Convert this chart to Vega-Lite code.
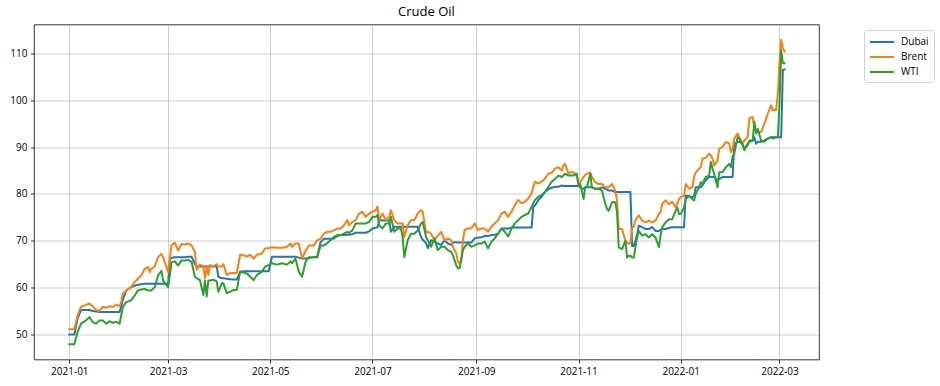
{
  "$schema": "https://vega.github.io/schema/vega-lite/v6.json",
  "width": 785,
  "height": 335,
  "autosize": "none",
  "padding": {"left": 34, "top": 24.5, "right": 121, "bottom": 26.5},
  "background": "white",
  "title": {"text": "Crude Oil", "fontSize": 13, "font": "Open Sans", "fontWeight": "normal", "color": "black", "offset": 6, "anchor": "middle"},
  "config": {
    "font": "Open Sans",
    "view": {"stroke": "black", "strokeWidth": 0.8},
    "axis": {"domain": false, "tickColor": "black", "tickSize": 3.5, "tickWidth": 0.8, "labelFontSize": 10, "labelColor": "black", "labelFont": "Open Sans", "labelPadding": 3.5, "gridColor": "#b0b0b0", "gridWidth": 0.8, "gridOpacity": 0.8, "title": null}
  },
  "data": {"values": [
    {"date": "2021-01-01", "Dubai": 50.0, "Brent": 51.1, "WTI": 47.9},
    {"date": "2021-01-04", "Dubai": 50.0, "Brent": 51.1, "WTI": 47.9},
    {"date": "2021-01-06", "Dubai": 53.5, "Brent": 54.1, "WTI": 50.6},
    {"date": "2021-01-08", "Dubai": 55.2, "Brent": 55.9, "WTI": 52.3},
    {"date": "2021-01-11", "Dubai": 55.2, "Brent": 56.3, "WTI": 53.0},
    {"date": "2021-01-13", "Dubai": 55.2, "Brent": 56.6, "WTI": 53.7},
    {"date": "2021-01-15", "Dubai": 55.0, "Brent": 56.0, "WTI": 52.6},
    {"date": "2021-01-17", "Dubai": 54.9, "Brent": 55.2, "WTI": 52.3},
    {"date": "2021-01-19", "Dubai": 54.8, "Brent": 55.0, "WTI": 53.0},
    {"date": "2021-01-21", "Dubai": 54.8, "Brent": 55.9, "WTI": 53.0},
    {"date": "2021-01-23", "Dubai": 54.8, "Brent": 55.7, "WTI": 52.3},
    {"date": "2021-01-25", "Dubai": 54.8, "Brent": 56.0, "WTI": 52.8},
    {"date": "2021-01-27", "Dubai": 54.8, "Brent": 55.9, "WTI": 52.5},
    {"date": "2021-01-29", "Dubai": 54.8, "Brent": 56.3, "WTI": 52.7},
    {"date": "2021-01-31", "Dubai": 54.8, "Brent": 56.1, "WTI": 52.3},
    {"date": "2021-02-01", "Dubai": 56.0, "Brent": 56.9, "WTI": 54.1},
    {"date": "2021-02-02", "Dubai": 57.5, "Brent": 58.7, "WTI": 55.9},
    {"date": "2021-02-04", "Dubai": 59.4, "Brent": 59.4, "WTI": 56.9},
    {"date": "2021-02-07", "Dubai": 60.1, "Brent": 60.1, "WTI": 57.3},
    {"date": "2021-02-09", "Dubai": 60.4, "Brent": 61.2, "WTI": 58.3},
    {"date": "2021-02-11", "Dubai": 60.6, "Brent": 61.9, "WTI": 59.4},
    {"date": "2021-02-13", "Dubai": 60.7, "Brent": 62.6, "WTI": 59.6},
    {"date": "2021-02-15", "Dubai": 60.8, "Brent": 64.0, "WTI": 59.7},
    {"date": "2021-02-17", "Dubai": 60.8, "Brent": 64.4, "WTI": 59.4},
    {"date": "2021-02-18", "Dubai": 60.8, "Brent": 63.3, "WTI": 59.4},
    {"date": "2021-02-19", "Dubai": 60.8, "Brent": 64.0, "WTI": 59.4},
    {"date": "2021-02-21", "Dubai": 60.8, "Brent": 64.5, "WTI": 60.1},
    {"date": "2021-02-23", "Dubai": 60.8, "Brent": 66.5, "WTI": 62.6},
    {"date": "2021-02-25", "Dubai": 60.8, "Brent": 67.2, "WTI": 63.6},
    {"date": "2021-02-26", "Dubai": 60.8, "Brent": 66.5, "WTI": 61.5},
    {"date": "2021-02-27", "Dubai": 60.8, "Brent": 65.4, "WTI": 61.0},
    {"date": "2021-03-01", "Dubai": 60.8, "Brent": 63.3, "WTI": 60.1},
    {"date": "2021-03-02", "Dubai": 66.1, "Brent": 66.1, "WTI": 62.6},
    {"date": "2021-03-03", "Dubai": 66.3, "Brent": 69.0, "WTI": 65.4},
    {"date": "2021-03-05", "Dubai": 66.5, "Brent": 69.6, "WTI": 65.6},
    {"date": "2021-03-07", "Dubai": 66.5, "Brent": 67.9, "WTI": 64.7},
    {"date": "2021-03-09", "Dubai": 66.5, "Brent": 69.3, "WTI": 65.8},
    {"date": "2021-03-11", "Dubai": 66.5, "Brent": 69.2, "WTI": 65.8},
    {"date": "2021-03-13", "Dubai": 66.6, "Brent": 69.4, "WTI": 65.9},
    {"date": "2021-03-15", "Dubai": 66.6, "Brent": 69.0, "WTI": 65.5},
    {"date": "2021-03-17", "Dubai": 65.0, "Brent": 67.6, "WTI": 62.3},
    {"date": "2021-03-18", "Dubai": 64.5, "Brent": 63.8, "WTI": 62.0},
    {"date": "2021-03-20", "Dubai": 64.5, "Brent": 64.9, "WTI": 61.6},
    {"date": "2021-03-22", "Dubai": 64.5, "Brent": 64.5, "WTI": 58.4},
    {"date": "2021-03-23", "Dubai": 64.5, "Brent": 62.0, "WTI": 61.5},
    {"date": "2021-03-24", "Dubai": 64.5, "Brent": 64.5, "WTI": 58.1},
    {"date": "2021-03-25", "Dubai": 64.5, "Brent": 62.7, "WTI": 61.5},
    {"date": "2021-03-26", "Dubai": 64.5, "Brent": 64.8, "WTI": 61.5},
    {"date": "2021-03-28", "Dubai": 64.5, "Brent": 64.5, "WTI": 61.7},
    {"date": "2021-03-30", "Dubai": 64.5, "Brent": 65.0, "WTI": 61.3},
    {"date": "2021-03-31", "Dubai": 62.3, "Brent": 64.5, "WTI": 59.1},
    {"date": "2021-04-02", "Dubai": 62.0, "Brent": 64.5, "WTI": 60.9},
    {"date": "2021-04-03", "Dubai": 62.0, "Brent": 65.0, "WTI": 60.9},
    {"date": "2021-04-05", "Dubai": 61.9, "Brent": 62.7, "WTI": 58.8},
    {"date": "2021-04-07", "Dubai": 61.8, "Brent": 63.1, "WTI": 59.1},
    {"date": "2021-04-09", "Dubai": 61.7, "Brent": 63.1, "WTI": 59.5},
    {"date": "2021-04-11", "Dubai": 61.7, "Brent": 63.1, "WTI": 59.5},
    {"date": "2021-04-13", "Dubai": 63.4, "Brent": 67.0, "WTI": 63.4},
    {"date": "2021-04-15", "Dubai": 63.5, "Brent": 66.9, "WTI": 63.2},
    {"date": "2021-04-17", "Dubai": 63.5, "Brent": 66.6, "WTI": 63.0},
    {"date": "2021-04-19", "Dubai": 63.5, "Brent": 67.0, "WTI": 62.3},
    {"date": "2021-04-21", "Dubai": 63.5, "Brent": 66.2, "WTI": 61.6},
    {"date": "2021-04-23", "Dubai": 63.5, "Brent": 67.0, "WTI": 62.7},
    {"date": "2021-04-26", "Dubai": 63.5, "Brent": 67.3, "WTI": 63.4},
    {"date": "2021-04-28", "Dubai": 63.5, "Brent": 68.4, "WTI": 64.5},
    {"date": "2021-04-30", "Dubai": 63.5, "Brent": 68.4, "WTI": 64.8},
    {"date": "2021-05-02", "Dubai": 66.6, "Brent": 68.6, "WTI": 65.2},
    {"date": "2021-05-05", "Dubai": 66.6, "Brent": 68.5, "WTI": 64.9},
    {"date": "2021-05-08", "Dubai": 66.6, "Brent": 68.5, "WTI": 65.2},
    {"date": "2021-05-11", "Dubai": 66.6, "Brent": 68.7, "WTI": 64.9},
    {"date": "2021-05-13", "Dubai": 66.6, "Brent": 69.4, "WTI": 65.6},
    {"date": "2021-05-14", "Dubai": 66.6, "Brent": 68.7, "WTI": 65.2},
    {"date": "2021-05-16", "Dubai": 66.6, "Brent": 69.4, "WTI": 66.2},
    {"date": "2021-05-18", "Dubai": 66.4, "Brent": 69.4, "WTI": 63.4},
    {"date": "2021-05-20", "Dubai": 66.2, "Brent": 66.2, "WTI": 62.3},
    {"date": "2021-05-22", "Dubai": 66.2, "Brent": 67.8, "WTI": 65.5},
    {"date": "2021-05-24", "Dubai": 66.3, "Brent": 69.0, "WTI": 66.5},
    {"date": "2021-05-27", "Dubai": 66.5, "Brent": 69.0, "WTI": 66.5},
    {"date": "2021-05-29", "Dubai": 66.6, "Brent": 70.1, "WTI": 66.4},
    {"date": "2021-05-31", "Dubai": 69.7, "Brent": 70.4, "WTI": 69.0},
    {"date": "2021-06-02", "Dubai": 70.4, "Brent": 71.5, "WTI": 69.0},
    {"date": "2021-06-04", "Dubai": 70.4, "Brent": 71.9, "WTI": 69.5},
    {"date": "2021-06-06", "Dubai": 70.4, "Brent": 71.9, "WTI": 70.1},
    {"date": "2021-06-08", "Dubai": 70.5, "Brent": 72.2, "WTI": 70.8},
    {"date": "2021-06-10", "Dubai": 71.0, "Brent": 72.6, "WTI": 71.2},
    {"date": "2021-06-12", "Dubai": 71.2, "Brent": 72.6, "WTI": 71.2},
    {"date": "2021-06-14", "Dubai": 71.2, "Brent": 73.3, "WTI": 71.5},
    {"date": "2021-06-16", "Dubai": 71.3, "Brent": 74.4, "WTI": 71.9},
    {"date": "2021-06-17", "Dubai": 71.3, "Brent": 73.3, "WTI": 71.7},
    {"date": "2021-06-19", "Dubai": 71.4, "Brent": 74.0, "WTI": 72.2},
    {"date": "2021-06-21", "Dubai": 71.7, "Brent": 74.4, "WTI": 73.7},
    {"date": "2021-06-23", "Dubai": 71.7, "Brent": 75.8, "WTI": 73.7},
    {"date": "2021-06-25", "Dubai": 71.7, "Brent": 76.2, "WTI": 73.7},
    {"date": "2021-06-27", "Dubai": 71.7, "Brent": 75.1, "WTI": 73.7},
    {"date": "2021-06-29", "Dubai": 72.0, "Brent": 75.8, "WTI": 74.0},
    {"date": "2021-07-01", "Dubai": 72.6, "Brent": 76.2, "WTI": 75.1},
    {"date": "2021-07-03", "Dubai": 72.8, "Brent": 76.5, "WTI": 75.1},
    {"date": "2021-07-04", "Dubai": 72.8, "Brent": 77.3, "WTI": 75.5},
    {"date": "2021-07-05", "Dubai": 74.4, "Brent": 74.4, "WTI": 73.3},
    {"date": "2021-07-07", "Dubai": 74.3, "Brent": 75.8, "WTI": 72.6},
    {"date": "2021-07-09", "Dubai": 74.3, "Brent": 74.4, "WTI": 73.7},
    {"date": "2021-07-11", "Dubai": 74.3, "Brent": 75.1, "WTI": 73.7},
    {"date": "2021-07-12", "Dubai": 71.9, "Brent": 76.5, "WTI": 75.1},
    {"date": "2021-07-14", "Dubai": 73.0, "Brent": 74.4, "WTI": 71.9},
    {"date": "2021-07-16", "Dubai": 73.0, "Brent": 73.7, "WTI": 72.6},
    {"date": "2021-07-18", "Dubai": 73.0, "Brent": 73.7, "WTI": 72.6},
    {"date": "2021-07-19", "Dubai": 73.0, "Brent": 73.7, "WTI": 70.8},
    {"date": "2021-07-20", "Dubai": 73.0, "Brent": 70.8, "WTI": 66.5},
    {"date": "2021-07-22", "Dubai": 73.0, "Brent": 73.3, "WTI": 70.1},
    {"date": "2021-07-24", "Dubai": 73.0, "Brent": 74.4, "WTI": 71.5},
    {"date": "2021-07-26", "Dubai": 73.0, "Brent": 74.4, "WTI": 71.5},
    {"date": "2021-07-28", "Dubai": 73.0, "Brent": 75.8, "WTI": 72.2},
    {"date": "2021-07-30", "Dubai": 70.8, "Brent": 76.5, "WTI": 73.7},
    {"date": "2021-07-31", "Dubai": 70.2, "Brent": 76.2, "WTI": 74.0},
    {"date": "2021-08-02", "Dubai": 69.5, "Brent": 71.7, "WTI": 70.8},
    {"date": "2021-08-03", "Dubai": 68.4, "Brent": 71.9, "WTI": 70.1},
    {"date": "2021-08-05", "Dubai": 70.1, "Brent": 71.5, "WTI": 68.7},
    {"date": "2021-08-07", "Dubai": 69.8, "Brent": 70.1, "WTI": 70.5},
    {"date": "2021-08-09", "Dubai": 69.4, "Brent": 71.1, "WTI": 68.0},
    {"date": "2021-08-11", "Dubai": 69.1, "Brent": 71.9, "WTI": 68.7},
    {"date": "2021-08-13", "Dubai": 70.1, "Brent": 70.1, "WTI": 68.7},
    {"date": "2021-08-15", "Dubai": 69.4, "Brent": 70.5, "WTI": 68.0},
    {"date": "2021-08-17", "Dubai": 69.1, "Brent": 70.1, "WTI": 67.6},
    {"date": "2021-08-18", "Dubai": 69.6, "Brent": 68.7, "WTI": 66.9},
    {"date": "2021-08-20", "Dubai": 69.7, "Brent": 67.3, "WTI": 64.8},
    {"date": "2021-08-21", "Dubai": 69.6, "Brent": 65.5, "WTI": 64.1},
    {"date": "2021-08-22", "Dubai": 69.6, "Brent": 65.2, "WTI": 64.1},
    {"date": "2021-08-23", "Dubai": 69.6, "Brent": 65.9, "WTI": 66.0},
    {"date": "2021-08-24", "Dubai": 69.6, "Brent": 70.1, "WTI": 68.0},
    {"date": "2021-08-25", "Dubai": 69.6, "Brent": 72.3, "WTI": 68.7},
    {"date": "2021-08-27", "Dubai": 69.6, "Brent": 72.6, "WTI": 69.4},
    {"date": "2021-08-29", "Dubai": 69.6, "Brent": 72.6, "WTI": 68.7},
    {"date": "2021-08-31", "Dubai": 70.5, "Brent": 73.7, "WTI": 69.0},
    {"date": "2021-09-02", "Dubai": 70.7, "Brent": 72.3, "WTI": 69.4},
    {"date": "2021-09-04", "Dubai": 70.7, "Brent": 72.6, "WTI": 69.4},
    {"date": "2021-09-06", "Dubai": 71.0, "Brent": 72.6, "WTI": 69.8},
    {"date": "2021-09-08", "Dubai": 71.0, "Brent": 71.9, "WTI": 68.4},
    {"date": "2021-09-10", "Dubai": 71.2, "Brent": 73.0, "WTI": 69.8},
    {"date": "2021-09-12", "Dubai": 71.3, "Brent": 73.7, "WTI": 70.5},
    {"date": "2021-09-14", "Dubai": 71.5, "Brent": 74.4, "WTI": 71.5},
    {"date": "2021-09-16", "Dubai": 72.6, "Brent": 75.8, "WTI": 72.6},
    {"date": "2021-09-18", "Dubai": 72.6, "Brent": 76.2, "WTI": 71.9},
    {"date": "2021-09-20", "Dubai": 72.6, "Brent": 75.1, "WTI": 70.9},
    {"date": "2021-09-22", "Dubai": 72.8, "Brent": 76.2, "WTI": 72.6},
    {"date": "2021-09-24", "Dubai": 72.8, "Brent": 77.6, "WTI": 73.7},
    {"date": "2021-09-26", "Dubai": 72.8, "Brent": 78.7, "WTI": 74.4},
    {"date": "2021-09-28", "Dubai": 72.8, "Brent": 78.0, "WTI": 75.1},
    {"date": "2021-09-30", "Dubai": 72.8, "Brent": 78.3, "WTI": 75.5},
    {"date": "2021-10-02", "Dubai": 72.8, "Brent": 79.0, "WTI": 75.8},
    {"date": "2021-10-04", "Dubai": 72.8, "Brent": 80.1, "WTI": 77.2},
    {"date": "2021-10-05", "Dubai": 77.2, "Brent": 81.5, "WTI": 78.0},
    {"date": "2021-10-06", "Dubai": 77.5, "Brent": 82.6, "WTI": 78.7},
    {"date": "2021-10-08", "Dubai": 78.7, "Brent": 82.2, "WTI": 79.4},
    {"date": "2021-10-10", "Dubai": 79.4, "Brent": 82.6, "WTI": 79.7},
    {"date": "2021-10-12", "Dubai": 80.4, "Brent": 83.3, "WTI": 80.4},
    {"date": "2021-10-14", "Dubai": 81.0, "Brent": 84.3, "WTI": 81.5},
    {"date": "2021-10-16", "Dubai": 81.3, "Brent": 84.5, "WTI": 82.6},
    {"date": "2021-10-18", "Dubai": 81.5, "Brent": 85.4, "WTI": 83.2},
    {"date": "2021-10-20", "Dubai": 81.5, "Brent": 85.7, "WTI": 83.9},
    {"date": "2021-10-22", "Dubai": 81.8, "Brent": 85.0, "WTI": 83.6},
    {"date": "2021-10-23", "Dubai": 81.7, "Brent": 86.1, "WTI": 83.9},
    {"date": "2021-10-24", "Dubai": 81.7, "Brent": 86.4, "WTI": 84.3},
    {"date": "2021-10-26", "Dubai": 81.7, "Brent": 84.3, "WTI": 83.9},
    {"date": "2021-10-27", "Dubai": 81.7, "Brent": 84.6, "WTI": 83.9},
    {"date": "2021-10-29", "Dubai": 81.7, "Brent": 84.6, "WTI": 83.9},
    {"date": "2021-10-31", "Dubai": 81.7, "Brent": 83.9, "WTI": 84.3},
    {"date": "2021-11-01", "Dubai": 81.7, "Brent": 82.1, "WTI": 81.8},
    {"date": "2021-11-02", "Dubai": 81.4, "Brent": 82.5, "WTI": 82.1},
    {"date": "2021-11-03", "Dubai": 81.1, "Brent": 83.0, "WTI": 80.7},
    {"date": "2021-11-04", "Dubai": 81.1, "Brent": 83.6, "WTI": 78.9},
    {"date": "2021-11-05", "Dubai": 81.4, "Brent": 84.0, "WTI": 81.4},
    {"date": "2021-11-06", "Dubai": 81.4, "Brent": 84.3, "WTI": 81.4},
    {"date": "2021-11-08", "Dubai": 81.4, "Brent": 84.6, "WTI": 84.3},
    {"date": "2021-11-09", "Dubai": 81.4, "Brent": 83.6, "WTI": 81.4},
    {"date": "2021-11-11", "Dubai": 81.1, "Brent": 82.5, "WTI": 81.1},
    {"date": "2021-11-13", "Dubai": 81.1, "Brent": 82.1, "WTI": 81.1},
    {"date": "2021-11-15", "Dubai": 81.4, "Brent": 82.1, "WTI": 80.7},
    {"date": "2021-11-17", "Dubai": 81.1, "Brent": 81.4, "WTI": 77.9},
    {"date": "2021-11-18", "Dubai": 80.9, "Brent": 81.4, "WTI": 76.8},
    {"date": "2021-11-19", "Dubai": 80.7, "Brent": 81.4, "WTI": 76.4},
    {"date": "2021-11-21", "Dubai": 80.7, "Brent": 82.1, "WTI": 78.2},
    {"date": "2021-11-23", "Dubai": 80.4, "Brent": 80.7, "WTI": 78.2},
    {"date": "2021-11-24", "Dubai": 80.4, "Brent": 78.6, "WTI": 76.1},
    {"date": "2021-11-25", "Dubai": 80.4, "Brent": 72.5, "WTI": 68.6},
    {"date": "2021-11-27", "Dubai": 80.4, "Brent": 72.5, "WTI": 68.2},
    {"date": "2021-11-29", "Dubai": 80.4, "Brent": 70.0, "WTI": 70.0},
    {"date": "2021-11-30", "Dubai": 80.4, "Brent": 69.6, "WTI": 66.4},
    {"date": "2021-12-01", "Dubai": 80.4, "Brent": 69.3, "WTI": 66.8},
    {"date": "2021-12-02", "Dubai": 80.4, "Brent": 69.6, "WTI": 66.8},
    {"date": "2021-12-03", "Dubai": 68.9, "Brent": 72.9, "WTI": 66.4},
    {"date": "2021-12-04", "Dubai": 68.9, "Brent": 73.0, "WTI": 66.4},
    {"date": "2021-12-05", "Dubai": 70.0, "Brent": 74.3, "WTI": 68.6},
    {"date": "2021-12-06", "Dubai": 71.4, "Brent": 75.0, "WTI": 70.7},
    {"date": "2021-12-07", "Dubai": 73.2, "Brent": 75.4, "WTI": 72.1},
    {"date": "2021-12-09", "Dubai": 72.9, "Brent": 74.3, "WTI": 71.1},
    {"date": "2021-12-11", "Dubai": 72.5, "Brent": 73.9, "WTI": 71.4},
    {"date": "2021-12-13", "Dubai": 72.5, "Brent": 74.3, "WTI": 70.7},
    {"date": "2021-12-15", "Dubai": 72.9, "Brent": 73.9, "WTI": 71.4},
    {"date": "2021-12-17", "Dubai": 72.1, "Brent": 74.3, "WTI": 70.7},
    {"date": "2021-12-19", "Dubai": 72.1, "Brent": 75.7, "WTI": 68.6},
    {"date": "2021-12-20", "Dubai": 72.3, "Brent": 76.1, "WTI": 71.1},
    {"date": "2021-12-21", "Dubai": 72.5, "Brent": 77.9, "WTI": 72.9},
    {"date": "2021-12-23", "Dubai": 72.5, "Brent": 78.6, "WTI": 73.9},
    {"date": "2021-12-25", "Dubai": 72.7, "Brent": 77.8, "WTI": 74.6},
    {"date": "2021-12-27", "Dubai": 72.9, "Brent": 78.3, "WTI": 74.6},
    {"date": "2021-12-29", "Dubai": 72.9, "Brent": 77.2, "WTI": 76.4},
    {"date": "2021-12-30", "Dubai": 72.9, "Brent": 77.9, "WTI": 77.1},
    {"date": "2021-12-31", "Dubai": 72.9, "Brent": 78.9, "WTI": 75.7},
    {"date": "2022-01-01", "Dubai": 72.9, "Brent": 79.3, "WTI": 75.7},
    {"date": "2022-01-03", "Dubai": 72.9, "Brent": 79.6, "WTI": 77.1},
    {"date": "2022-01-04", "Dubai": 79.6, "Brent": 82.1, "WTI": 78.9},
    {"date": "2022-01-06", "Dubai": 79.5, "Brent": 81.1, "WTI": 79.6},
    {"date": "2022-01-08", "Dubai": 79.3, "Brent": 81.4, "WTI": 78.9},
    {"date": "2022-01-09", "Dubai": 79.6, "Brent": 83.6, "WTI": 78.6},
    {"date": "2022-01-10", "Dubai": 81.4, "Brent": 84.6, "WTI": 80.0},
    {"date": "2022-01-12", "Dubai": 81.4, "Brent": 85.4, "WTI": 81.4},
    {"date": "2022-01-13", "Dubai": 81.4, "Brent": 85.7, "WTI": 82.5},
    {"date": "2022-01-14", "Dubai": 81.8, "Brent": 87.5, "WTI": 82.1},
    {"date": "2022-01-16", "Dubai": 82.9, "Brent": 87.7, "WTI": 83.6},
    {"date": "2022-01-18", "Dubai": 83.6, "Brent": 88.6, "WTI": 83.9},
    {"date": "2022-01-19", "Dubai": 83.6, "Brent": 88.2, "WTI": 86.8},
    {"date": "2022-01-20", "Dubai": 83.6, "Brent": 87.5, "WTI": 85.4},
    {"date": "2022-01-21", "Dubai": 83.6, "Brent": 86.1, "WTI": 84.3},
    {"date": "2022-01-23", "Dubai": 82.9, "Brent": 87.1, "WTI": 81.4},
    {"date": "2022-01-24", "Dubai": 83.2, "Brent": 89.6, "WTI": 84.6},
    {"date": "2022-01-26", "Dubai": 83.6, "Brent": 90.0, "WTI": 84.6},
    {"date": "2022-01-28", "Dubai": 83.6, "Brent": 91.1, "WTI": 85.7},
    {"date": "2022-01-30", "Dubai": 83.6, "Brent": 90.7, "WTI": 86.4},
    {"date": "2022-01-31", "Dubai": 83.6, "Brent": 88.9, "WTI": 85.7},
    {"date": "2022-02-01", "Dubai": 83.6, "Brent": 89.6, "WTI": 88.0},
    {"date": "2022-02-02", "Dubai": 90.7, "Brent": 91.8, "WTI": 88.6},
    {"date": "2022-02-04", "Dubai": 91.1, "Brent": 92.9, "WTI": 92.1},
    {"date": "2022-02-05", "Dubai": 91.1, "Brent": 92.1, "WTI": 91.8},
    {"date": "2022-02-07", "Dubai": 90.7, "Brent": 90.7, "WTI": 90.4},
    {"date": "2022-02-08", "Dubai": 89.6, "Brent": 91.4, "WTI": 89.3},
    {"date": "2022-02-10", "Dubai": 90.4, "Brent": 92.1, "WTI": 90.7},
    {"date": "2022-02-11", "Dubai": 91.4, "Brent": 96.1, "WTI": 91.1},
    {"date": "2022-02-13", "Dubai": 91.4, "Brent": 96.4, "WTI": 91.4},
    {"date": "2022-02-14", "Dubai": 92.1, "Brent": 93.9, "WTI": 95.4},
    {"date": "2022-02-15", "Dubai": 90.7, "Brent": 93.6, "WTI": 92.9},
    {"date": "2022-02-16", "Dubai": 91.1, "Brent": 93.2, "WTI": 93.9},
    {"date": "2022-02-18", "Dubai": 91.1, "Brent": 93.2, "WTI": 91.4},
    {"date": "2022-02-20", "Dubai": 91.4, "Brent": 95.0, "WTI": 91.1},
    {"date": "2022-02-22", "Dubai": 91.8, "Brent": 97.1, "WTI": 91.8},
    {"date": "2022-02-24", "Dubai": 92.1, "Brent": 98.9, "WTI": 92.1},
    {"date": "2022-02-25", "Dubai": 92.1, "Brent": 97.9, "WTI": 91.8},
    {"date": "2022-02-27", "Dubai": 92.1, "Brent": 97.9, "WTI": 92.1},
    {"date": "2022-02-28", "Dubai": 92.1, "Brent": 101.4, "WTI": 92.1},
    {"date": "2022-03-01", "Dubai": 92.1, "Brent": 107.9, "WTI": 99.3},
    {"date": "2022-03-02", "Dubai": 92.1, "Brent": 112.9, "WTI": 110.7},
    {"date": "2022-03-03", "Dubai": 106.4, "Brent": 111.1, "WTI": 107.9},
    {"date": "2022-03-04", "Dubai": 106.6, "Brent": 110.4, "WTI": 107.9}
  ]},
  "transform": [{"fold": ["Dubai", "Brent", "WTI"], "as": ["series", "price"]}],
  "mark": {"type": "line", "strokeWidth": 2, "strokeJoin": "round", "strokeCap": "square"},
  "encoding": {
    "x": {
      "field": "date", "type": "temporal",
      "scale": {"type": "utc", "domain": [{"year": 2020, "month": 12, "date": 10, "hours": 22, "utc": true}, {"year": 2022, "month": 3, "date": 24, "hours": 14, "utc": true}]},
      "axis": {
        "values": [
          {"year": 2021, "month": 1, "date": 1, "utc": true},
          {"year": 2021, "month": 3, "date": 1, "utc": true},
          {"year": 2021, "month": 5, "date": 1, "utc": true},
          {"year": 2021, "month": 7, "date": 1, "utc": true},
          {"year": 2021, "month": 9, "date": 1, "utc": true},
          {"year": 2021, "month": 11, "date": 1, "utc": true},
          {"year": 2022, "month": 1, "date": 1, "utc": true},
          {"year": 2022, "month": 3, "date": 1, "utc": true}
        ],
        "labelExpr": "utcFormat(datum.value, '%Y-%m')", "labelFlush": false, "labelOverlap": false
      }
    },
    "y": {
      "field": "price", "type": "quantitative",
      "scale": {"domain": [44.65, 116.15], "nice": false, "zero": false},
      "axis": {"values": [50, 60, 70, 80, 90, 100, 110]}
    },
    "color": {
      "field": "series", "type": "nominal",
      "scale": {"domain": ["Dubai", "Brent", "WTI"], "range": ["#1f77b4", "#ff7f0e", "#2ca02c"]},
      "legend": {
        "title": null, "orient": "none", "legendX": 830, "legendY": 5.5,
        "symbolType": "M-1,0H3", "symbolSize": 144, "symbolStrokeWidth": 2, "symbolFillColor": "transparent",
        "labelFontSize": 10, "labelFont": "Open Sans", "labelColor": "black", "labelOffset": 18,
        "strokeColor": "#d0d0d0", "fillColor": "white", "cornerRadius": 3, "padding": 5, "rowPadding": 3
      }
    }
  }
}
